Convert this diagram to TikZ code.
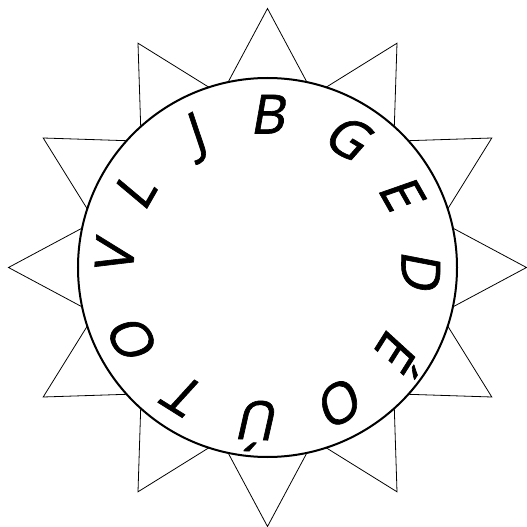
\documentclass[tikz,border=0pt]{standalone}
\usepackage{fontspec}
\newfontfamily\lettfont[FakeSlant=0.18,FakeBold=1.2]{Open Sans}
\begin{document}
\begin{tikzpicture}[x=1pt,y=1pt,
  ray/.style={line width=0.8pt, line join=miter},
  rim/.style={circle, draw, line width=2pt, fill=white, inner sep=0pt, minimum size=379pt},
  letter/.style={font=\lettfont\fontsize{54}{54}\selectfont, anchor=base, inner sep=0pt}]
\useasboundingbox (-267.5,-259.5) rectangle (259.5,267.5);
\foreach \a [count=\i] in {90,60,...,-240} {
  \coordinate (t\i) at (\a:259);
  \coordinate (l\i) at (\a+12:189.5);
  \coordinate (r\i) at (\a-12:189.5);
  \draw[ray] (l\i) -- (t\i) -- (r\i);
}
\node[rim] (disc) at (0,0) {};
\foreach \t/\a [count=\i] in {B/90.2, G/58.8, E/29.5, D/-0.7, É/-32.2, O/-60.7, Ú/-92.5, T/-122.1, O/-150.8, V/176.7, L/150.2, J/118.8} {
  \node[letter, rotate=\a-90] (c\i) at (\a:134) {\t};
}
\end{tikzpicture}
\end{document}
